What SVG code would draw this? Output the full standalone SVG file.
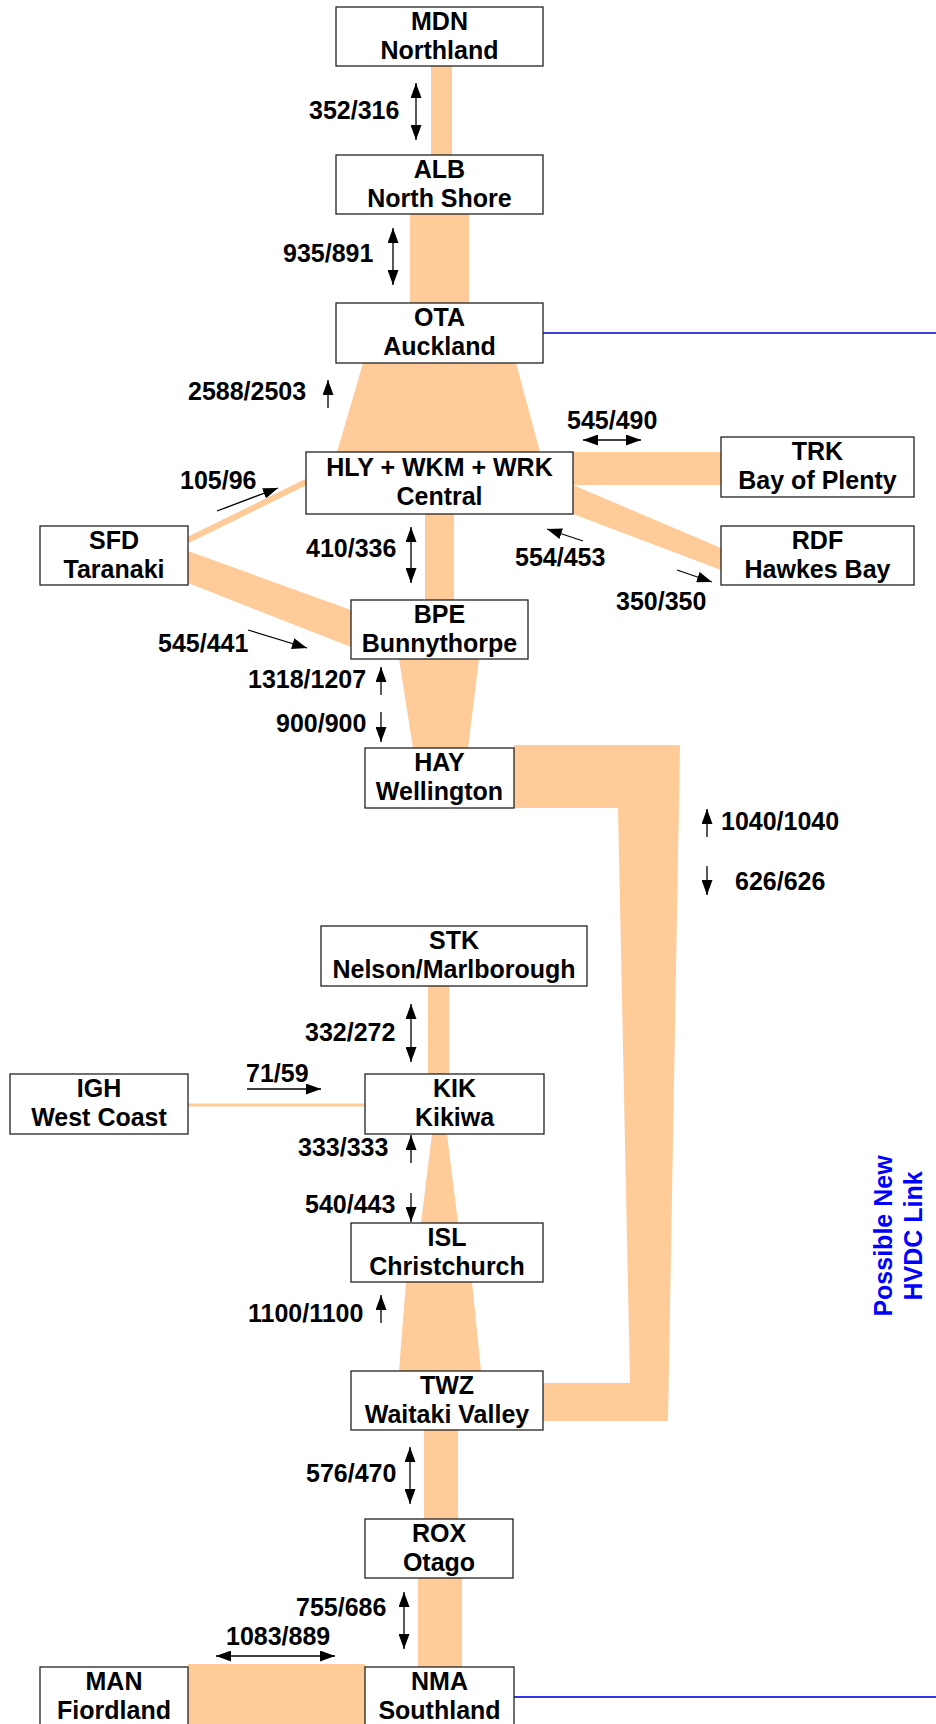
<svg xmlns="http://www.w3.org/2000/svg" width="936" height="1724" viewBox="0 0 936 1724">
<style>
text{font-family:"Liberation Sans",Arial,sans-serif;font-weight:bold;font-size:25px;fill:#000}
.nt{text-anchor:middle}
.box{fill:#fff;stroke:#222;stroke-width:1.3}
.band{fill:#FFCC99;stroke:none}
.arr{stroke:#000;stroke-width:1.3;fill:none;marker-end:url(#ah)}
.darr{stroke:#000;stroke-width:1.3;fill:none;marker-end:url(#ah);marker-start:url(#ah)}
.hv{fill:#0000FF;text-anchor:middle}
</style>
<defs>
<marker id="ah" markerUnits="userSpaceOnUse" markerWidth="16" markerHeight="11" refX="15" refY="5.5" orient="auto-start-reverse">
<path d="M0,0 L15,5.5 L0,11 z" fill="#000"/>
</marker>
</defs>
<g id="connectors">
<rect class="band" x="431" y="66" width="21" height="89"/>
<rect class="band" x="410" y="214" width="59" height="89"/>
<polygon class="band" points="363,363 516,363 540,452 337,452"/>
<rect class="band" x="573" y="452" width="148" height="33"/>
<polygon class="band" points="573,485 721,548 721,570 573,514"/>
<line x1="188" y1="540" x2="306" y2="482" stroke="#FFCC99" stroke-width="6"/>
<polygon class="band" points="188,551 351,610 351,647 188,583"/>
<rect class="band" x="425" y="514" width="29" height="86"/>
<polygon class="band" points="399,659 479,659 468,748 413,748"/>
<polygon class="band" points="514,745 680,745 668,1421 543,1421 543,1383 630,1383 618,808 514,808"/>
<rect class="band" x="428" y="986" width="21" height="88"/>
<line x1="188" y1="1105" x2="365" y2="1105" stroke="#FFCC99" stroke-width="3"/>
<polygon class="band" points="432,1134 447,1134 458,1223 421,1223"/>
<polygon class="band" points="406,1282 472,1282 481,1371 399,1371"/>
<rect class="band" x="424" y="1430" width="34" height="89"/>
<rect class="band" x="418" y="1578" width="44" height="89"/>
<rect class="band" x="188" y="1664" width="177" height="60"/>
<line x1="543" y1="333" x2="936" y2="333" stroke="#0000CC" stroke-width="1.3"/>
<line x1="514" y1="1697" x2="936" y2="1697" stroke="#3333EE" stroke-width="2"/>
</g>
<g id="flow-labels">
<line class="darr" x1="416" y1="83" x2="416" y2="140"/>
<text x="309" y="119">352/316</text>
<line class="darr" x1="393" y1="228" x2="393" y2="285"/>
<text x="283" y="262">935/891</text>
<line class="arr" x1="328" y1="408" x2="328" y2="380"/>
<text x="188" y="400">2588/2503</text>
<line class="arr" x1="217" y1="511" x2="278" y2="488"/>
<text x="180" y="489">105/96</text>
<line class="darr" x1="411" y1="527" x2="411" y2="583"/>
<text x="306" y="557">410/336</text>
<line class="arr" x1="248" y1="630" x2="307" y2="648"/>
<text x="158" y="652">545/441</text>
<line class="arr" x1="381" y1="695" x2="381" y2="667"/>
<text x="248" y="688">1318/1207</text>
<line class="arr" x1="381" y1="712" x2="381" y2="742"/>
<text x="276" y="732">900/900</text>
<line class="darr" x1="583" y1="440" x2="641" y2="440"/>
<text x="567" y="429">545/490</text>
<line class="arr" x1="583" y1="541" x2="547" y2="529"/>
<text x="515" y="566">554/453</text>
<line class="arr" x1="677" y1="570" x2="712" y2="582"/>
<text x="616" y="610">350/350</text>
<line class="arr" x1="707" y1="837" x2="707" y2="809"/>
<text x="721" y="830">1040/1040</text>
<line class="arr" x1="707" y1="866" x2="707" y2="895"/>
<text x="735" y="890">626/626</text>
<line class="darr" x1="411" y1="1004" x2="411" y2="1062"/>
<text x="305" y="1041">332/272</text>
<line class="arr" x1="247" y1="1089" x2="321" y2="1089"/>
<text x="246" y="1082">71/59</text>
<line class="arr" x1="411" y1="1163" x2="411" y2="1135"/>
<text x="298" y="1156">333/333</text>
<line class="arr" x1="411" y1="1193" x2="411" y2="1222"/>
<text x="305" y="1213">540/443</text>
<line class="arr" x1="381" y1="1323" x2="381" y2="1295"/>
<text x="248" y="1322">1100/1100</text>
<line class="darr" x1="410" y1="1447" x2="410" y2="1504"/>
<text x="306" y="1482">576/470</text>
<line class="darr" x1="404" y1="1592" x2="404" y2="1649"/>
<text x="296" y="1616">755/686</text>
<line class="darr" x1="216" y1="1656" x2="335" y2="1656"/>
<text x="226" y="1645">1083/889</text>
</g>
<g id="MDN"><rect class="box" x="336" y="7" width="207" height="59"/><text class="nt" x="439.5" y="29.5">MDN</text><text class="nt" x="439.5" y="58.5">Northland</text></g>
<g id="ALB"><rect class="box" x="336" y="155" width="207" height="59"/><text class="nt" x="439.5" y="177.5">ALB</text><text class="nt" x="439.5" y="206.5">North Shore</text></g>
<g id="OTA"><rect class="box" x="336" y="303" width="207" height="60"/><text class="nt" x="439.5" y="326">OTA</text><text class="nt" x="439.5" y="355">Auckland</text></g>
<g id="Central"><rect class="box" x="306" y="452" width="267" height="62"/><text class="nt" x="439.5" y="476">HLY + WKM + WRK</text><text class="nt" x="439.5" y="505">Central</text></g>
<g id="TRK"><rect class="box" x="721" y="437" width="193" height="60"/><text class="nt" x="817.5" y="460">TRK</text><text class="nt" x="817.5" y="489">Bay of Plenty</text></g>
<g id="RDF"><rect class="box" x="721" y="526" width="193" height="59"/><text class="nt" x="817.5" y="548.5">RDF</text><text class="nt" x="817.5" y="577.5">Hawkes Bay</text></g>
<g id="SFD"><rect class="box" x="40" y="526" width="148" height="59"/><text class="nt" x="114" y="548.5">SFD</text><text class="nt" x="114" y="577.5">Taranaki</text></g>
<g id="BPE"><rect class="box" x="351" y="600" width="177" height="59"/><text class="nt" x="439.5" y="622.5">BPE</text><text class="nt" x="439.5" y="651.5">Bunnythorpe</text></g>
<g id="HAY"><rect class="box" x="365" y="748" width="149" height="60"/><text class="nt" x="439.5" y="771">HAY</text><text class="nt" x="439.5" y="800">Wellington</text></g>
<g id="STK"><rect class="box" x="321" y="926" width="266" height="60"/><text class="nt" x="454" y="949">STK</text><text class="nt" x="454" y="978">Nelson/Marlborough</text></g>
<g id="IGH"><rect class="box" x="10" y="1074" width="178" height="60"/><text class="nt" x="99" y="1097">IGH</text><text class="nt" x="99" y="1126">West Coast</text></g>
<g id="KIK"><rect class="box" x="365" y="1074" width="179" height="60"/><text class="nt" x="454.5" y="1097">KIK</text><text class="nt" x="454.5" y="1126">Kikiwa</text></g>
<g id="ISL"><rect class="box" x="351" y="1223" width="192" height="59"/><text class="nt" x="447" y="1245.5">ISL</text><text class="nt" x="447" y="1274.5">Christchurch</text></g>
<g id="TWZ"><rect class="box" x="351" y="1371" width="192" height="59"/><text class="nt" x="447" y="1393.5">TWZ</text><text class="nt" x="447" y="1422.5">Waitaki Valley</text></g>
<g id="ROX"><rect class="box" x="365" y="1519" width="148" height="59"/><text class="nt" x="439" y="1541.5">ROX</text><text class="nt" x="439" y="1570.5">Otago</text></g>
<g id="MAN"><rect class="box" x="40" y="1667" width="148" height="70"/><text class="nt" x="114" y="1690">MAN</text><text class="nt" x="114" y="1719">Fiordland</text></g>
<g id="NMA"><rect class="box" x="365" y="1667" width="149" height="70"/><text class="nt" x="439.5" y="1690">NMA</text><text class="nt" x="439.5" y="1719">Southland</text></g>
<g id="hvdc-label">
<text class="hv" transform="translate(892,1236) rotate(-90)">Possible New</text>
<text class="hv" transform="translate(922,1236) rotate(-90)">HVDC Link</text>
</g>
</svg>
